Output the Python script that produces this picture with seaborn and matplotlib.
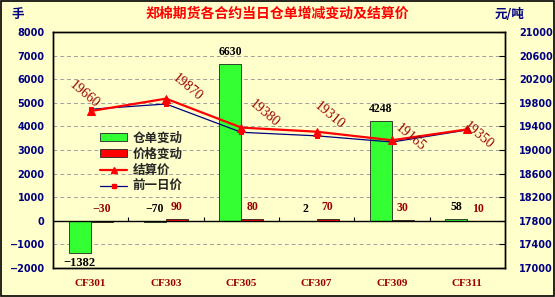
import matplotlib
matplotlib.use("Agg")
import matplotlib.pyplot as plt
import seaborn as sns
import pandas as pd
import numpy as np
from matplotlib.lines import Line2D
from matplotlib.patches import Patch, Rectangle

# ---------------- data ----------------
contracts = ["CF301", "CF303", "CF305", "CF307", "CF309", "CF311"]
warrant_change = [-1382, -70, 6630, 2, 4248, 58]      # 仓单变动 (手)
price_change = [-30, 90, 80, 70, 30, 10]              # 价格变动
settle_price = [19660, 19870, 19380, 19310, 19165, 19350]  # 结算价
prev_price = [19690, 19780, 19300, 19240, 19135, 19340]    # 前一日价
left_ticks = list(range(-2000, 8001, 1000))
right_ticks = list(range(17000, 21001, 400))
series_names = ["仓单变动", "价格变动", "结算价", "前一日价"]
title = "郑棉期货各合约当日仓单增减变动及结算价"

# ---------------- style ----------------
sns.set_style("white")
plt.rcParams["font.family"] = ["Noto Sans CJK SC", "DejaVu Sans"]
BG = "#FFFFCC"
GREEN = "#33FF33"
RED = "#FF0000"
DARKRED = "#990000"
NAVY = "#000080"
cjk = ["Noto Sans CJK SC", "DejaVu Sans"]
serif = ["Liberation Serif", "DejaVu Serif"]

df = pd.DataFrame({
    "合约": contracts * 2,
    "值": warrant_change + price_change,
    "系列": [series_names[0]] * len(contracts) + [series_names[1]] * len(contracts),
})

fig = plt.figure(figsize=(5.55, 2.97), dpi=100)
fig.patch.set_facecolor(BG)
ax = fig.add_axes([53 / 555, 1 - 268 / 297, 452 / 555, 236 / 297])
ax.set_facecolor(BG)

sns.barplot(data=df, x="合约", y="值", hue="系列", hue_order=series_names[:2],
            palette=[GREEN, RED], saturation=1, width=0.58, edgecolor="#222222",
            linewidth=0.6, legend=False, ax=ax, order=contracts)

ax.set_ylim(-2000, 8000)
ax.set_xlim(-0.5, len(contracts) - 0.5)
ax.set_yticks(left_ticks)
ax.set_yticklabels([str(t).replace("-", "\u2212") for t in left_ticks],
                   fontsize=7, fontweight="bold", color=NAVY, family="DejaVu Sans")
ax.yaxis.grid(True, linestyle=(0, (4, 3)), color="#A0A0A0", linewidth=0.7)
ax.set_axisbelow(True)
ax.axhline(0, color="black", linewidth=1.0, zorder=3)
ax.vlines(np.arange(0.5, len(contracts) - 0.5, 1), 0, 160, color="black", linewidth=0.8, zorder=3)
ax.set_xlabel("")
ax.set_ylabel("")
ax.tick_params(axis="x", length=0, pad=8)
ax.tick_params(axis="y", length=0, pad=6)
for lbl in ax.get_xticklabels():
    lbl.set_fontfamily(serif)
    lbl.set_fontweight("bold")
    lbl.set_fontsize(8)
    lbl.set_color(DARKRED)
for s in ax.spines.values():
    s.set_color("black")
    s.set_linewidth(1.0)

# bar labels
for cont, vals, col in zip(ax.containers, [warrant_change, price_change], ["black", DARKRED]):
    for patch, v in zip(cont.patches, vals):
        xc = patch.get_x() + patch.get_width() / 2
        if v < -500:
            ax.annotate(str(v).replace("-", "\u2212"), (xc, v), xytext=(0, -10),
                        textcoords="offset pixels", ha="center", va="center",
                        fontsize=9, fontweight="bold", family=serif, color=col, zorder=5)
        else:
            ax.annotate(str(v).replace("-", "\u2212"), (xc, max(v, 0)), xytext=(0, 12),
                        textcoords="offset pixels", ha="center", va="center",
                        fontsize=8.5, fontweight="bold", family=serif, color=col, zorder=5)

# price lines on the right axis
ax2 = ax.twinx()
ax2.set_facecolor("none")
sns.lineplot(x=contracts, y=prev_price, sort=False, ax=ax2, color=NAVY, linewidth=0.9,
             marker="s", markersize=2.5, markerfacecolor=RED, markeredgecolor=RED, zorder=4)
sns.lineplot(x=contracts, y=settle_price, sort=False, ax=ax2, color=RED, linewidth=1.6,
             marker="^", markersize=6, markerfacecolor=RED, markeredgecolor=RED, zorder=5)
ax2.set_ylim(17000, 21000)
ax2.set_yticks(right_ticks)
ax2.set_yticklabels([str(t) for t in right_ticks], fontsize=7, fontweight="bold",
                    color=NAVY, family="DejaVu Sans")
ax2.tick_params(axis="y", direction="in", length=4, pad=10, color="black")
ax2.set_ylabel("")
ax2.set_xlim(-0.5, len(contracts) - 0.5)
for s in ax2.spines.values():
    s.set_color("black")
    s.set_linewidth(1.0)

label_offsets = [(-6, 17), (21, 11), (23, 14), (13, 16), (18, 3), (11, -6)]
for i, (v, off) in enumerate(zip(settle_price, label_offsets)):
    ax2.annotate(str(v), (i, v), xytext=off, textcoords="offset pixels",
                 ha="center", va="center", rotation=-40, fontsize=10,
                 family=serif, color=DARKRED, zorder=6)

handles = [
    Patch(facecolor=GREEN, edgecolor="#222222", linewidth=0.6),
    Patch(facecolor=RED, edgecolor="#222222", linewidth=0.6),
    Line2D([], [], color=RED, linewidth=1.6, marker="^", markersize=5),
    Line2D([], [], color=NAVY, linewidth=0.9, marker="s", markersize=2.5,
           markerfacecolor=RED, markeredgecolor=RED),
]
ax2.legend(handles, series_names, loc="upper left", bbox_to_anchor=(0.09, 0.605),
           frameon=False, prop={"family": cjk, "weight": "bold", "size": 9},
           handlelength=2.2, handleheight=0.6, handletextpad=0.4, labelspacing=0.25,
           borderpad=0)

# titles and units
fig.text(0.5, 1 - 14 / 297, title, ha="center", va="center", fontsize=10,
         fontweight="bold", color=RED, family=cjk)
fig.text(18 / 555, 1 - 14 / 297, "手", ha="center", va="center", fontsize=9,
         fontweight="bold", color=NAVY, family=cjk)
fig.text(510 / 555, 1 - 14 / 297, "元/吨", ha="center", va="center", fontsize=9,
         fontweight="bold", color=NAVY, family=cjk)

fig.patches.append(Rectangle((0.001, 0.002), 0.997, 0.996, transform=fig.transFigure,
                             fill=False, edgecolor="black", linewidth=1.2))

fig.savefig("out.png", dpi=100, facecolor=BG)
